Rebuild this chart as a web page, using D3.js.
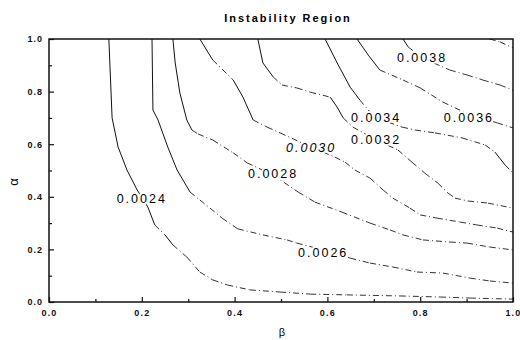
<!DOCTYPE html>
<html>
<head>
<meta charset="utf-8">
<script src="https://cdn.jsdelivr.net/npm/d3@7"></script>
<style>
  body { margin: 0; background: #fff; }
  text { font-family: "Liberation Sans", Arial, sans-serif; }
</style>
</head>
<body>
<svg id="chart"></svg>
<script>
const W = 520, H = 340;
const m = {left: 49, right: 7, top: 39, bottom: 38};

// contour lines, each point is [beta, alpha]
const c0024 = [[0.129,1.0],[0.136,0.700],[0.149,0.589],[0.168,0.502],[0.190,0.426],[0.213,0.361],[0.228,0.293],[0.250,0.255],[0.267,0.217],[0.297,0.171],[0.325,0.114],[0.353,0.084],[0.384,0.065],[0.433,0.046],[0.498,0.038],[0.563,0.030],[0.642,0.027],[0.756,0.023],[0.843,0.019],[0.907,0.015],[1.0,0.011]];
const c0026 = [[0.222,1.0],[0.224,0.730],[0.235,0.692],[0.256,0.589],[0.276,0.502],[0.304,0.418],[0.325,0.388],[0.347,0.357],[0.373,0.319],[0.407,0.278],[0.461,0.255],[0.513,0.236],[0.534,0.224],[0.591,0.198],[0.649,0.167],[0.692,0.148],[0.741,0.133],[0.793,0.114],[0.849,0.110],[0.907,0.091],[0.950,0.080],[1.0,0.072]];
const c0028 = [[0.267,1.0],[0.272,0.909],[0.282,0.795],[0.297,0.692],[0.308,0.654],[0.321,0.639],[0.353,0.616],[0.397,0.567],[0.427,0.529],[0.483,0.483],[0.537,0.418],[0.573,0.380],[0.631,0.342],[0.692,0.300],[0.735,0.274],[0.763,0.255],[0.806,0.236],[0.864,0.228],[0.901,0.224],[0.950,0.209],[1.0,0.198]];
const c0030 = [[0.325,1.0],[0.353,0.920],[0.397,0.844],[0.418,0.779],[0.440,0.692],[0.470,0.665],[0.498,0.643],[0.565,0.589],[0.616,0.551],[0.638,0.532],[0.659,0.502],[0.692,0.471],[0.720,0.426],[0.741,0.395],[0.778,0.357],[0.800,0.331],[0.836,0.319],[0.886,0.304],[0.922,0.293],[0.966,0.281],[1.0,0.266]];
const c0032 = [[0.450,1.0],[0.461,0.909],[0.483,0.856],[0.502,0.825],[0.534,0.814],[0.563,0.798],[0.606,0.779],[0.621,0.741],[0.634,0.700],[0.655,0.665],[0.705,0.616],[0.752,0.578],[0.782,0.532],[0.810,0.490],[0.838,0.452],[0.860,0.414],[0.875,0.395],[0.903,0.384],[0.946,0.376],[1.0,0.357]];
const c0034 = [[0.595,1.0],[0.621,0.909],[0.649,0.817],[0.670,0.768],[0.688,0.730],[0.705,0.700],[0.761,0.665],[0.789,0.654],[0.832,0.643],[0.890,0.624],[0.940,0.597],[0.961,0.570],[0.983,0.521],[1.0,0.490]];
const c0036 = [[0.664,1.0],[0.688,0.939],[0.713,0.882],[0.763,0.844],[0.800,0.814],[0.849,0.760],[0.903,0.715],[0.966,0.681],[1.0,0.662]];
const c0038 = [[0.763,1.0],[0.774,0.970],[0.804,0.928],[0.864,0.882],[0.901,0.863],[0.935,0.844],[0.972,0.825],[1.0,0.806]];
const c0040 = [[0.950,1.0],[0.972,0.989],[1.0,0.966]];

const levels = ['0.0024','0.0026','0.0028','0.0030','0.0032','0.0034','0.0036','0.0038','0.0040'];
const lines = [c0024, c0026, c0028, c0030, c0032, c0034, c0036, c0038, c0040];
// label anchors [beta, alpha], null = no label
const labelAt = [[0.200,0.395],[0.591,0.190],[0.483,0.490],[0.565,0.589],[0.705,0.616],[0.705,0.700],[0.905,0.700],[0.804,0.928],null];

const xTicks = [0, 0.2, 0.4, 0.6, 0.8, 1.0];
const xMinor = [0.1, 0.3, 0.5, 0.7, 0.9];
const yTicks = [0, 0.2, 0.4, 0.6, 0.8, 1.0];
const yMinor = [0.1, 0.3, 0.5, 0.7, 0.9];

const svg = d3.select('#chart').attr('width', W).attr('height', H);

const x = d3.scaleLinear().domain([0, 1]).range([m.left, W - m.right]);
const y = d3.scaleLinear().domain([0, 1]).range([H - m.bottom, m.top]);

svg.append('text')
    .attr('x', 288).attr('y', 22)
    .attr('text-anchor', 'middle')
    .attr('font-size', 11).attr('font-weight', 'bold')
    .attr('letter-spacing', 2)
    .text('Instability Region');

// contour lines: steep parts solid, flat parts dash-dot (as in the scan)
const plot = svg.append('g');
lines.forEach(pts => {
    for (let i = 0; i < pts.length - 1; i++) {
        const x1 = x(pts[i][0]), y1 = y(pts[i][1]), x2 = x(pts[i + 1][0]), y2 = y(pts[i + 1][1]);
        const steep = Math.abs(y2 - y1) > 1.2 * Math.abs(x2 - x1);
        plot.append('line')
            .attr('x1', x1).attr('y1', y1).attr('x2', x2).attr('y2', y2)
            .attr('stroke', steep ? '#111' : '#333')
            .attr('stroke-width', 1)
            .attr('stroke-dasharray', steep ? null : '6,3,1,3');
    }
});

// labels with a white halo to break the lines
labelAt.forEach((p, i) => {
    if (!p) return;
    plot.append('text')
        .attr('x', x(p[0])).attr('y', y(p[1]))
        .attr('dy', '0.36em')
        .attr('text-anchor', 'middle')
        .attr('font-size', 12.5)
        .attr('letter-spacing', 2)
        .attr('font-style', levels[i] === '0.0030' ? 'italic' : 'normal')
        .attr('fill', '#000')
        .attr('stroke', '#fff').attr('stroke-width', 4)
        .attr('paint-order', 'stroke')
        .text(levels[i]);
});

// axes
const fmt = d3.format('.1f');
const gx = svg.append('g').attr('transform', `translate(0,${H - m.bottom})`)
    .call(d3.axisBottom(x).tickValues(xTicks).tickSize(-5).tickPadding(8).tickFormat(fmt));
svg.append('g').attr('transform', `translate(0,${H - m.bottom})`)
    .call(d3.axisBottom(x).tickValues(xMinor).tickSize(-3).tickFormat(''));
const gy = svg.append('g').attr('transform', `translate(${m.left},0)`)
    .call(d3.axisLeft(y).tickValues(yTicks).tickSize(-5).tickPadding(6).tickFormat(fmt));
svg.append('g').attr('transform', `translate(${m.left},0)`)
    .call(d3.axisLeft(y).tickValues(yMinor).tickSize(-3).tickFormat(''));

svg.selectAll('.domain').remove();
svg.selectAll('.tick line').attr('stroke', '#111').attr('stroke-width', 1.2);
gx.selectAll('text').attr('font-size', 9).attr('font-weight', 'bold').attr('letter-spacing', 1.2)
    .attr('font-family', '"Liberation Sans", Arial, sans-serif').attr('fill', '#111');
// keep the last label inside the window
gx.selectAll('text').filter(d => d === 1).attr('text-anchor', 'end').attr('dx', 8);
gy.selectAll('text').attr('font-size', 9).attr('font-weight', 'bold').attr('letter-spacing', 1)
    .attr('font-family', '"Liberation Sans", Arial, sans-serif').attr('fill', '#111');

svg.append('rect')
    .attr('x', m.left).attr('y', m.top)
    .attr('width', W - m.left - m.right).attr('height', H - m.top - m.bottom)
    .attr('fill', 'none').attr('stroke', '#111').attr('stroke-width', 1.5);

svg.append('text')
    .attr('transform', `translate(18,182) rotate(-90)`)
    .attr('text-anchor', 'middle')
    .attr('font-family', '"DejaVu Serif", serif')
    .attr('font-size', 13)
    .text('α');

svg.append('text')
    .attr('x', 282).attr('y', 336)
    .attr('text-anchor', 'middle')
    .attr('font-family', '"DejaVu Serif", serif')
    .attr('font-size', 11)
    .text('β');
</script>
</body>
</html>
